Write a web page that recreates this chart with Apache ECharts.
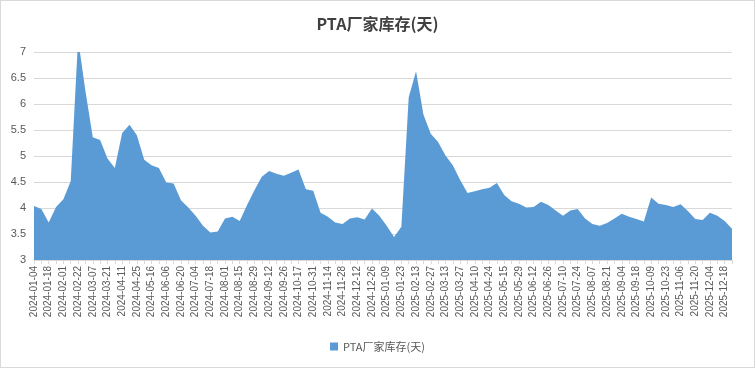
<!DOCTYPE html>
<html>
<head>
<meta charset="utf-8">
<script src="https://cdn.jsdelivr.net/npm/echarts@6/dist/echarts.min.js"></script>
<style>
html,body{margin:0;padding:0;background:#fff;}
#c{width:753px;height:366px;border:1px solid #d9d9d9;}
</style>
</head>
<body>
<div id="c"></div>
<script>
const title = "PTA厂家库存(天)";
const seriesName = "PTA厂家库存(天)";
const dates = [
"2024-01-04","2024-01-11","2024-01-18","2024-01-25","2024-02-01","2024-02-08","2024-02-22","2024-02-29",
"2024-03-07","2024-03-14","2024-03-21","2024-03-28","2024-04-11","2024-04-18","2024-04-25","2024-05-09",
"2024-05-16","2024-05-23","2024-06-06","2024-06-13","2024-06-20","2024-06-27","2024-07-04","2024-07-11",
"2024-07-18","2024-07-25","2024-08-01","2024-08-08","2024-08-15","2024-08-22","2024-08-29","2024-09-05",
"2024-09-12","2024-09-19","2024-09-26","2024-10-10","2024-10-17","2024-10-24","2024-10-31","2024-11-07",
"2024-11-14","2024-11-21","2024-11-28","2024-12-05","2024-12-12","2024-12-19","2024-12-26","2025-01-02",
"2025-01-09","2025-01-16","2025-01-23","2025-02-06","2025-02-13","2025-02-20","2025-02-27","2025-03-06",
"2025-03-13","2025-03-20","2025-03-27","2025-04-03","2025-04-10","2025-04-17","2025-04-24","2025-05-08",
"2025-05-15","2025-05-22","2025-05-29","2025-06-05","2025-06-12","2025-06-19","2025-06-26","2025-07-03",
"2025-07-10","2025-07-17","2025-07-24","2025-07-31","2025-08-07","2025-08-14","2025-08-21","2025-08-28",
"2025-09-04","2025-09-11","2025-09-18","2025-09-25","2025-10-09","2025-10-16","2025-10-23","2025-10-30",
"2025-11-06","2025-11-13","2025-11-20","2025-11-27","2025-12-04","2025-12-11","2025-12-18","2025-12-25"
];
const inventoryDays = [
4.04,3.98,3.72,4.02,4.17,4.52,7.25,6.25,
5.36,5.31,4.95,4.77,5.44,5.60,5.40,4.93,
4.82,4.77,4.49,4.47,4.15,4.01,3.85,3.66,
3.53,3.55,3.80,3.83,3.75,4.06,4.34,4.60,
4.71,4.66,4.62,4.68,4.74,4.36,4.33,3.91,
3.83,3.72,3.69,3.80,3.82,3.78,3.99,3.85,
3.66,3.44,3.64,6.13,6.63,5.80,5.43,5.27,
5.01,4.82,4.54,4.29,4.32,4.36,4.39,4.48,
4.25,4.13,4.08,4.01,4.02,4.12,4.06,3.95,
3.85,3.95,3.98,3.80,3.69,3.66,3.71,3.80,
3.89,3.83,3.79,3.74,4.20,4.08,4.06,4.02,
4.07,3.94,3.79,3.77,3.91,3.85,3.75,3.60
];
const yMin = 3, yMax = 7, yStep = 0.5;

const chart = echarts.init(document.getElementById('c'));
chart.setOption({
  animation: false,
  backgroundColor: '#fff',
  title: {
    text: title, left: 'center', top: 10,
    textStyle: {fontFamily: '"Noto Sans CJK SC", "Noto Sans", sans-serif', fontSize: 16, fontWeight: 'bold', color: '#404040'}
  },
  legend: {
    bottom: 10, left: 'center',
    icon: 'rect', itemWidth: 8, itemHeight: 8, itemGap: 6,
    textStyle: {fontFamily: '"Noto Sans CJK SC", "Noto Sans", sans-serif', fontSize: 11, color: '#595959'},
    data: [seriesName]
  },
  grid: {left: 33, right: 22, top: 51, bottom: 107, containLabel: false},
  xAxis: {
    type: 'category', data: dates, boundaryGap: false,
    axisLine: {lineStyle: {color: '#d9d9d9'}},
    axisTick: {show: true, interval: 0, length: 4, lineStyle: {color: '#d9d9d9'}},
    axisLabel: {interval: 1, rotate: 90, fontSize: 10, color: '#595959', margin: 6,
      fontFamily: '"Liberation Sans", Arial, sans-serif'}
  },
  yAxis: {
    type: 'value', min: yMin, max: yMax, interval: yStep,
    axisLine: {show: false}, axisTick: {show: false},
    splitLine: {lineStyle: {color: '#d9d9d9'}},
    axisLabel: {fontSize: 11, color: '#595959', margin: 8, fontFamily: '"Liberation Sans", Arial, sans-serif'}
  },
  series: [{
    name: seriesName, type: 'line', data: inventoryDays,
    symbol: 'none', clip: true,
    lineStyle: {width: 0, color: '#5b9bd5'},
    itemStyle: {color: '#5b9bd5'},
    areaStyle: {color: '#5b9bd5', opacity: 1, origin: 'start'}
  }]
});
</script>
</body>
</html>
